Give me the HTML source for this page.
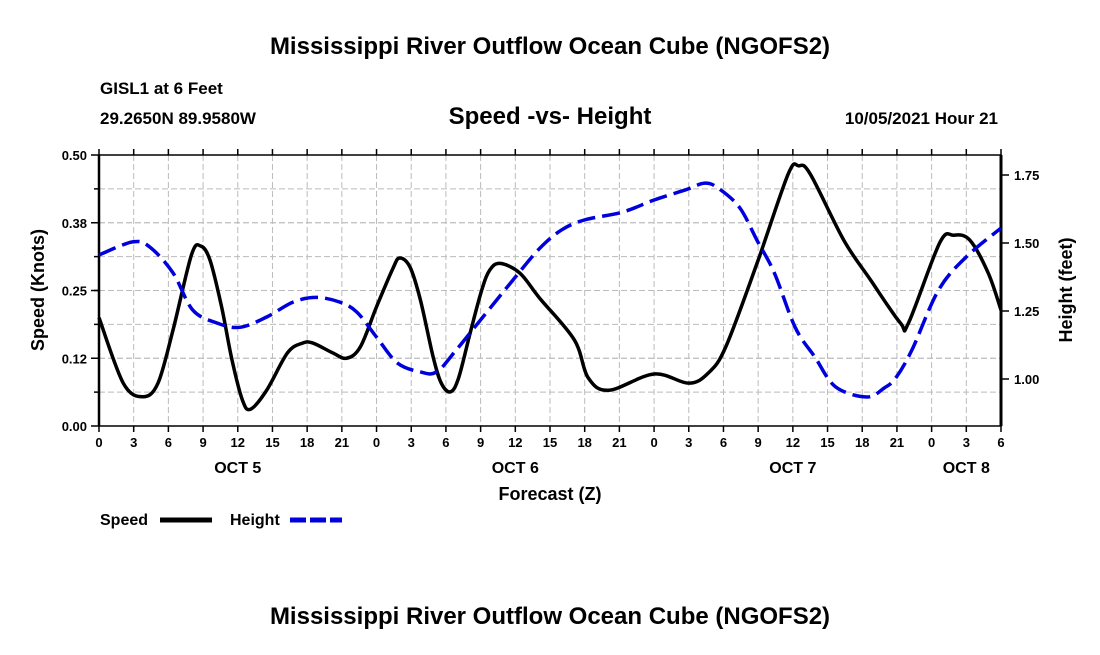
<!DOCTYPE html>
<html><head><meta charset="utf-8"><style>
body{margin:0;background:#fff;width:1100px;height:650px;overflow:hidden}
svg text{font-family:"Liberation Sans",sans-serif;font-weight:bold;fill:#000}
</style></head><body>
<svg id="chart" width="1100" height="650">
<text x="550" y="54" font-size="24" text-anchor="middle">Mississippi River Outflow Ocean Cube (NGOFS2)</text>
<text x="100" y="94" font-size="17">GISL1 at 6 Feet</text>
<text x="100" y="124" font-size="17">29.2650N  89.9580W</text>
<text x="550" y="124" font-size="24" text-anchor="middle">Speed -vs- Height</text>
<text x="998" y="124" font-size="17" text-anchor="end">10/05/2021 Hour 21</text>
<g id="grid"></g>
<g id="axes"></g>
<g id="series"></g>
<text transform="translate(44,290) rotate(-90)" font-size="18" text-anchor="middle">Speed (Knots)</text>
<text transform="translate(1072,290) rotate(-90)" font-size="18" text-anchor="middle">Height (feet)</text>
<text x="550" y="500" font-size="18" text-anchor="middle">Forecast (Z)</text>
<g>
<text x="100" y="525" font-size="16">Speed</text>
<line x1="160" y1="520" x2="212" y2="520" stroke="#000" stroke-width="5"/>
<text x="230" y="525" font-size="16">Height</text>
<line x1="290" y1="520" x2="342" y2="520" stroke="#0000dd" stroke-width="5" stroke-dasharray="16,4"/>
</g>
<text x="550" y="624" font-size="24" text-anchor="middle">Mississippi River Outflow Ocean Cube (NGOFS2)</text>
</svg>
<script>
const speedHours=[0,2.1,3.8,5.1,6.4,8,8.8,9.6,10.6,11.5,12.4,13.1,14.5,16.3,17.6,18.5,20.2,21.4,22.6,24,25.4,26,26.9,27.8,28.9,29.6,30.4,31.1,32.1,33.1,33.8,34.7,36.4,38.1,41.1,42.3,44.1,48,51,52.7,54.2,56.9,59.6,60.5,61.5,64.4,66.7,69.3,70,72.7,73.9,75.3,76.9,78];
const speedValues=[0.20,0.079,0.054,0.079,0.177,0.316,0.332,0.306,0.22,0.122,0.048,0.031,0.066,0.135,0.153,0.153,0.135,0.125,0.146,0.22,0.29,0.31,0.293,0.232,0.127,0.079,0.063,0.089,0.172,0.251,0.288,0.30,0.282,0.236,0.159,0.089,0.066,0.096,0.079,0.098,0.146,0.30,0.465,0.48,0.465,0.343,0.27,0.19,0.19,0.338,0.352,0.343,0.282,0.214];
const heightHours=[0,2.9,4.4,6.4,8.1,10.2,12.2,14.5,16.8,18.8,20.8,22.3,24,25.8,27.8,29.2,30.9,33.2,35.8,38.1,40,42,45.3,48,50.7,52.4,53.6,55.4,56.9,58.4,60.2,61.9,63.7,66.4,67.9,68.9,70.3,72.6,75,78];
const heightValues=[1.456,1.504,1.485,1.39,1.254,1.206,1.19,1.228,1.283,1.30,1.283,1.246,1.154,1.059,1.026,1.026,1.107,1.228,1.364,1.48,1.548,1.585,1.614,1.658,1.695,1.72,1.70,1.63,1.51,1.39,1.19,1.081,0.971,0.934,0.967,1.004,1.107,1.327,1.449,1.555];
const xTickLabels=["0","3","6","9","12","15","18","21","0","3","6","9","12","15","18","21","0","3","6","9","12","15","18","21","0","3","6"];
const dayLabels=["OCT 5","OCT 6","OCT 7","OCT 8"];
const dayLabelHours=[12,36,60,75];
const leftTicks=[0,0.125,0.25,0.375,0.5];
const leftTickLabels=["0.00","0.12","0.25","0.38","0.50"];
const rightTicks=[1.0,1.25,1.5,1.75];
const rightTickLabels=["1.00","1.25","1.50","1.75"];

const L=99,R=1001,T=155,B=426,HMAX=78;
const xS=h=>L+h/HMAX*(R-L);
const yS=v=>B-v/0.5*(B-T);
const yH=f=>379-(f-1.0)/0.25*68;
const NS="http://www.w3.org/2000/svg";
function mk(p,tag,at){const e=document.createElementNS(NS,tag);for(const k in at)e.setAttribute(k,at[k]);p.appendChild(e);return e;}
const grid=document.getElementById('grid'),axes=document.getElementById('axes'),ser=document.getElementById('series');
for(let i=1;i<8;i++){const y=yS(i*0.0625);
 const g=mk(grid,'line',{x1:L,x2:R,y1:y,y2:y,stroke:'#bbb','stroke-width':1,'stroke-dasharray':'6,3'});
 
 const t=mk(axes,'line',{x1:L-5,x2:L,y1:y,y2:y,stroke:'#000','stroke-width':1.5});
 }
xTickLabels.forEach((lab,i)=>{const x=xS(i*3);
 if(i>0&&i<xTickLabels.length-1){const g=mk(grid,'line',{x1:x,x2:x,y1:T,y2:B,stroke:'#bbb','stroke-width':1,'stroke-dasharray':'6,3'});
 }
 const t1=mk(axes,'line',{x1:x,x2:x,y1:B,y2:B+6,stroke:'#000','stroke-width':1.5});
 
 const t2=mk(axes,'line',{x1:x,x2:x,y1:T-6,y2:T,stroke:'#000','stroke-width':1.5});
 
 const tx=mk(axes,'text',{x:x,y:447,'font-size':13,'text-anchor':'middle'});tx.textContent=lab;
 });
dayLabels.forEach((d,i)=>{const tx=mk(axes,'text',{x:xS(dayLabelHours[i]),y:473,'font-size':16,'text-anchor':'middle'});tx.textContent=d;
 });
leftTicks.forEach((v,i)=>{const y=yS(v);
 const t=mk(axes,'line',{x1:L-8,x2:L,y1:y,y2:y,stroke:'#000','stroke-width':1.5});
 
 if(i>0&&i<leftTicks.length-1){const g=mk(grid,'line',{x1:L,x2:R,y1:y,y2:y,stroke:'#bbb','stroke-width':1,'stroke-dasharray':'6,3'});
 }
 const tx=mk(axes,'text',{x:87,y:y+5,'font-size':13,'text-anchor':'end'});tx.textContent=leftTickLabels[i];
 });
rightTicks.forEach((f,i)=>{const y=yH(f);
 const t=mk(axes,'line',{x1:R,x2:R+8,y1:y,y2:y,stroke:'#000','stroke-width':1.5});
 
 const tx=mk(axes,'text',{x:1014,y:y+5,'font-size':13});tx.textContent=rightTickLabels[i];
 });
const fr=mk(axes,'rect',{x:L,y:T,width:R-L,height:B-T,fill:'none',stroke:'#000','stroke-width':1.5});

const ra=mk(axes,'line',{x1:R,x2:R,y1:T,y2:B,stroke:'#000','stroke-width':3});

const la=mk(axes,'line',{x1:L,x2:L,y1:T,y2:B,stroke:'#000','stroke-width':2.5});

function smooth(pts){let d=`M${pts[0][0]},${pts[0][1]}`;
 for(let i=0;i<pts.length-1;i++){const p0=pts[Math.max(0,i-1)],p1=pts[i],p2=pts[i+1],p3=pts[Math.min(pts.length-1,i+2)];
  d+=` C${p1[0]+(p2[0]-p0[0])/6},${p1[1]+(p2[1]-p0[1])/6} ${p2[0]-(p3[0]-p1[0])/6},${p2[1]-(p3[1]-p1[1])/6} ${p2[0]},${p2[1]}`;}
 return d;}
const sp=mk(ser,'path',{d:smooth(speedHours.map((h,i)=>[xS(h),yS(speedValues[i])])),fill:'none',stroke:'#000','stroke-width':3.5,'stroke-linejoin':'round'});

const hp=mk(ser,'path',{d:smooth(heightHours.map((h,i)=>[xS(h),yH(heightValues[i])])),fill:'none',stroke:'#0000dd','stroke-width':3.5,'stroke-dasharray':'18,7'});

</script>
</body></html>
